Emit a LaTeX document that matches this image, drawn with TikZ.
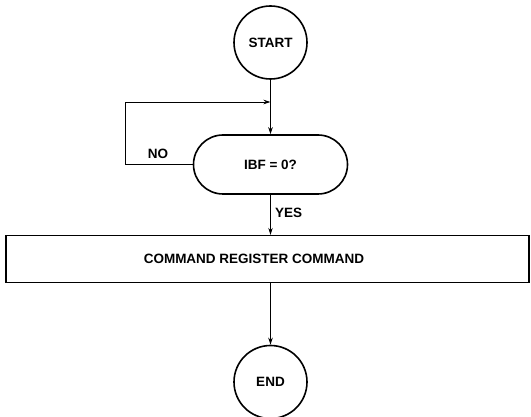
\documentclass[tikz,border=0pt]{standalone}
\usepackage{fontspec}
\setmainfont{Liberation Sans}
\usetikzlibrary{arrows.meta,shapes.misc}
\begin{document}
\begin{tikzpicture}[x=1pt,y=-1pt,
  every node/.style={font=\bfseries\fontsize{13.5}{15}\selectfont},
  term/.style={draw,circle,line width=1.6pt,minimum size=73pt,inner sep=0pt},
  pill/.style={draw,rounded rectangle,line width=1.6pt,minimum width=154pt,minimum height=59pt,inner sep=0pt},
  procbox/.style={draw,rectangle,line width=1.3pt,minimum width=523pt,minimum height=47pt,inner sep=0pt},
  conn/.style={line width=0.9pt,-{Stealth[length=7pt,width=4.5pt]}},
  lbl/.style={inner sep=1pt}]
\useasboundingbox (0,0) rectangle (531,417);
\node[term] (start) at (270.5,42.5) {START};
\node[pill] (test) at (270.5,164.5) {IBF = 0?};
\node[procbox] (cmd) at (267.5,259) {};
\node (cmdtext) at (254,259) {COMMAND REGISTER COMMAND};
\node[term] (end) at (270.5,382) {END};
\coordinate (bl) at (125.5,164.5);
\coordinate (tl) at (125.5,102);
\coordinate (join) at (270.5,102);
\draw[conn] (start.south) -- (test.north);
\draw[line width=0.9pt] (test.west) -- (bl) -- (tl);
\draw[conn] (tl) -- (join);
\node[lbl,anchor=base] (no) at (158,159) {NO};
\draw[conn] (test.south) -- (test.south |- cmd.north);
\node[lbl,anchor=west] (yes) at (274,213) {YES};
\draw[conn] (cmd.south -| start.south) -- (end.north);
\end{tikzpicture}
\end{document}
